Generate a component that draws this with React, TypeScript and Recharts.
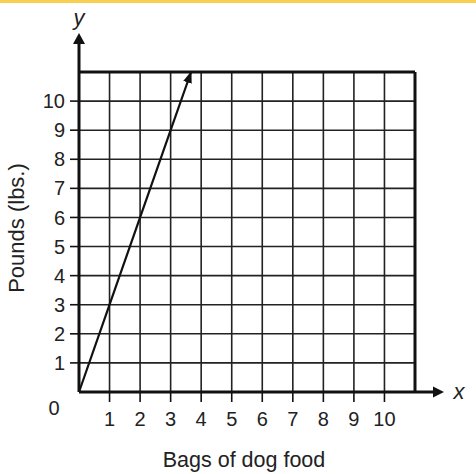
import React from "react";
import { CartesianGrid, Label, Line, LineChart, ReferenceLine, XAxis, YAxis } from "recharts";

// values
const bags = [0, 1, 2, 3, 3.67];
const pounds = [0, 3, 6, 9, 11];
const xTicks = [1, 2, 3, 4, 5, 6, 7, 8, 9, 10];
const yTicks = [1, 2, 3, 4, 5, 6, 7, 8, 9, 10];
const xMax = 11;
const yMax = 11;
const xTitle = "Bags of dog food";
const yTitle = "Pounds (lbs.)";

const data = bags.map((b, i) => ({ bags: b, pounds: pounds[i] }));

const FONT = "'Liberation Sans', Arial, sans-serif";
const INK = "#111";

const XAxisDecor = (props: any) => {
  const { x, y, width } = props.viewBox;
  const tip = x + width + 29;
  return (
    <g>
      <line x1={x} y1={y} x2={tip - 8} y2={y} stroke={INK} strokeWidth={3} />
      <path d={`M${tip},${y} L${tip - 11},${y - 5.5} L${tip - 11},${y + 5.5} Z`} fill={INK} />
      <text x={tip + 15} y={y + 7} fontFamily={FONT} fontSize={22} fontStyle="italic" fill="#222" textAnchor="middle">
        x
      </text>
      <text x={x - 25} y={y + 23} fontFamily={FONT} fontSize={20} fill="#222" textAnchor="middle">
        0
      </text>
      <text x={x + width / 2 - 3} y={y + 75} fontFamily={FONT} fontSize={21.5} fill="#222" textAnchor="middle">
        {xTitle}
      </text>
    </g>
  );
};

const YAxisDecor = (props: any) => {
  const { x, y, width, height } = props.viewBox;
  const ax = x + width;
  const tip = y - 39;
  return (
    <g>
      <line x1={ax} y1={y + height} x2={ax} y2={tip + 8} stroke={INK} strokeWidth={3} />
      <path d={`M${ax},${tip} L${ax - 6},${tip + 11} L${ax + 6},${tip + 11} Z`} fill={INK} />
      <text x={ax} y={y - 47} fontFamily={FONT} fontSize={22} fontStyle="italic" fill="#222" textAnchor="middle">
        y
      </text>
      <text
        x={x + 24}
        y={y + height / 2 - 4}
        fontFamily={FONT}
        fontSize={22}
        fill="#222"
        textAnchor="middle"
        transform={`rotate(-90 ${x + 24} ${y + height / 2 - 4})`}
      >
        {yTitle}
      </text>
    </g>
  );
};

export default function App() {
  return (
    <div style={{ position: "absolute", left: 0, top: 0, width: 476, height: 474, background: "#fff" }}>
      <div style={{ position: "absolute", left: 0, top: 0, width: 476, height: 3, background: "#f8cf4f" }} />
      <svg width={0} height={0} style={{ position: "absolute" }}>
        <defs>
          <marker
            id="lineArrow"
            viewBox="0 0 12 9"
            refX="11"
            refY="4.5"
            markerWidth="12"
            markerHeight="9"
            markerUnits="userSpaceOnUse"
            orient="auto"
          >
            <path d="M0,0 L12,4.5 L0,9 Z" fill={INK} />
          </marker>
        </defs>
      </svg>
      <LineChart width={476} height={474} data={data} margin={{ top: 72, right: 61, left: 0, bottom: 0 }}>
        <CartesianGrid stroke="#222" strokeWidth={1.6} />
        <XAxis
          type="number"
          dataKey="bags"
          domain={[0, xMax]}
          ticks={xTicks}
          interval={0}
          height={82}
          tickSize={10}
          tickMargin={10}
          axisLine={false}
          tickLine={{ stroke: INK, strokeWidth: 1.6 }}
          tick={{ fill: "#222", fontSize: 20, fontFamily: FONT }}
        >
          <Label content={XAxisDecor} />
        </XAxis>
        <YAxis
          type="number"
          domain={[0, yMax]}
          ticks={yTicks}
          interval={0}
          width={79}
          tickSize={9}
          tickMargin={5}
          axisLine={false}
          tickLine={{ stroke: INK, strokeWidth: 1.6 }}
          tick={{ fill: "#222", fontSize: 20, fontFamily: FONT }}
        >
          <Label content={YAxisDecor} />
        </YAxis>
        <ReferenceLine x={xMax} stroke={INK} strokeWidth={3} />
        <ReferenceLine y={yMax} stroke={INK} strokeWidth={3} />
        <Line
          type="linear"
          dataKey="pounds"
          stroke={INK}
          strokeWidth={2.2}
          dot={false}
          activeDot={false}
          markerEnd="url(#lineArrow)"
          isAnimationActive={false}
        />
      </LineChart>
    </div>
  );
}
